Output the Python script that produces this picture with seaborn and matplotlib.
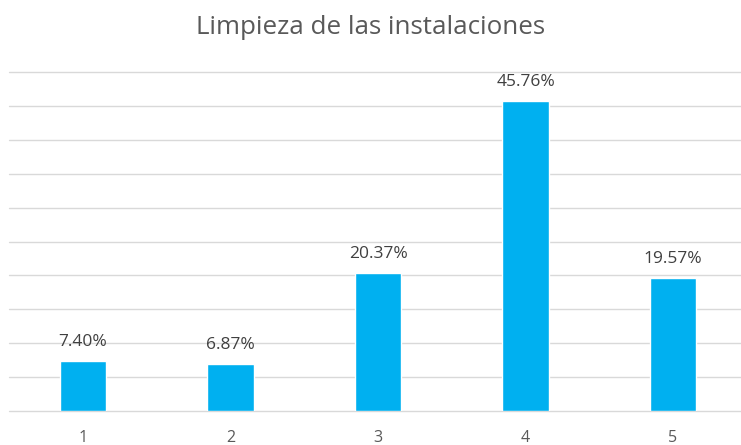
import matplotlib
matplotlib.use("Agg")
import matplotlib.pyplot as plt
import seaborn as sns
import pandas as pd

categories = ["1", "2", "3", "4", "5"]
values = [7.40, 6.87, 20.37, 45.76, 19.57]
labels = ["7.40%", "6.87%", "20.37%", "45.76%", "19.57%"]
title = "Limpieza de las instalaciones"

sns.set_style("white")
plt.rcParams["font.family"] = ["Open Sans", "DejaVu Sans"]

df = pd.DataFrame({"cat": categories, "val": values})

fig = plt.figure(figsize=(7.41, 4.45), dpi=100)
ax = fig.add_axes([9.25 / 741, 34 / 445, 737.5 / 741, 339 / 445])
sns.barplot(data=df, x="cat", y="val", color="#00B0F0", width=0.312, ax=ax,
            saturation=1, zorder=3)
ax.set_ylim(0, 50)
ax.set_xlim(-0.5, 4.5)
ax.set_yticks(range(0, 51, 5))
ax.yaxis.grid(True, color="#D9D9D9", linewidth=1.0, zorder=0)
for gl in ax.get_ygridlines():
    gl.set_clip_on(False)
ax.set_axisbelow(True)
ax.tick_params(axis="y", left=False, labelleft=False)
ax.tick_params(axis="x", bottom=False, length=0, pad=14, labelsize=11.5,
               labelcolor="#595959")
for s in ax.spines.values():
    s.set_visible(False)
ax.set_xlabel("")
ax.set_ylabel("")
for i, (v, lab) in enumerate(zip(values, labels)):
    ax.annotate(lab, (i, v), xytext=(0, 8), textcoords="offset points",
                ha="center", va="bottom", fontsize=12.5, color="#404040")
fig.text(0.5, 1 - 28 / 445, title, ha="center", va="center", fontsize=18.7,
         color="#595959")
fig.savefig("out.png", dpi=100)
